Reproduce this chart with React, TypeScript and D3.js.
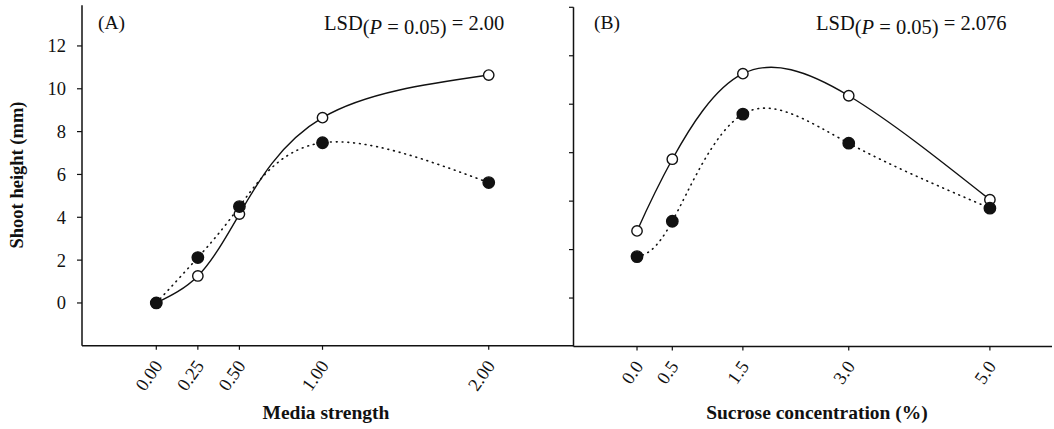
import React from "react";
import * as d3 from "d3";

// ---------- data ----------
const mediaStrength = [0, 0.25, 0.5, 1.0, 2.0];
const mediaTickLabels = ["0.00", "0.25", "0.50", "1.00", "2.00"];
const mediaOpen = [0, 1.26, 4.15, 8.65, 10.64];
const mediaFilled = [0, 2.12, 4.5, 7.48, 5.62];

const sucrose = [0, 0.5, 1.5, 3.0, 5.0];
const sucroseTickLabels = ["0.0", "0.5", "1.5", "3.0", "5.0"];
const sucroseOpen = [2.77, 5.73, 9.26, 8.35, 4.06];
const sucroseFilled = [1.71, 3.17, 7.59, 6.39, 3.71];

const yTicksA = [0, 2, 4, 6, 8, 10, 12];
const yTicksB = [0, 2, 4, 6, 8, 10, 12];

const FONT = "'Liberation Serif', 'Times New Roman', serif";

// ---------- scales ----------
const xA = d3.scaleLinear().domain([-0.447, 2.51]).range([82, 573.5]);
const yA = d3.scaleLinear().domain([-2, 14]).range([345.8, 3.1]);
const xB = d3.scaleLinear().domain([-0.9, 5.88]).range([573.5, 1052]);
const yB = d3.scaleLinear().domain([-2, 12]).range([346.5, 7.3]);

type Pt = [number, number];

function Series({
  xs, ys, x, y, dotted,
}: { xs: number[]; ys: number[]; x: d3.ScaleLinear<number, number>; y: d3.ScaleLinear<number, number>; dotted: boolean }) {
  const pts: Pt[] = xs.map((v, i) => [x(v), y(ys[i])]);
  const line = d3.line<Pt>().x((d) => d[0]).y((d) => d[1]).curve(d3.curveNatural);
  return (
    <path
      d={line(pts) || ""}
      fill="none"
      stroke="#111"
      strokeWidth={dotted ? 1.6 : 1.4}
      strokeDasharray={dotted ? "0.8 5" : undefined}
      strokeLinecap={dotted ? "round" : "butt"}
    />
  );
}

function Markers({
  xs, ys, x, y, filled,
}: { xs: number[]; ys: number[]; x: d3.ScaleLinear<number, number>; y: d3.ScaleLinear<number, number>; filled: boolean }) {
  return (
    <g>
      {xs.map((v, i) => (
        <circle
          key={i}
          cx={x(v)}
          cy={y(ys[i])}
          r={filled ? 5.7 : 5.2}
          fill={filled ? "#111" : "#fff"}
          stroke="#111"
          strokeWidth={1.4}
        />
      ))}
    </g>
  );
}

function XTicks({
  values, labels, x, y0,
}: { values: number[]; labels: string[]; x: d3.ScaleLinear<number, number>; y0: number }) {
  return (
    <g>
      {values.map((v, i) => (
        <g key={i}>
          <line x1={x(v)} x2={x(v)} y1={y0} y2={y0 + 4} stroke="#111" strokeWidth={1.2} />
          <text
            transform={`translate(${x(v) + 7},${y0 + 20}) rotate(-55)`}
            textAnchor="end"
            fontFamily={FONT}
            fontSize={18.5}
            fill="#111"
          >
            {labels[i]}
          </text>
        </g>
      ))}
    </g>
  );
}

function LSD({ x0, value }: { x0: number; value: string }) {
  return (
    <text x={x0} y={30} fontFamily={FONT} fontSize={20.5} fill="#111">
      LSD
      <tspan dy={4}>(</tspan>
      <tspan fontStyle="italic">P</tspan>
      <tspan> = 0.05)</tspan>
      <tspan dy={-4}> = {value}</tspan>
    </text>
  );
}

export default function App() {
  const bottomA = yA(-2);
  const bottomB = yB(-2);
  return (
    <svg
      width={1054}
      height={429}
      style={{ position: "absolute", left: 0, top: 0, background: "#fff" }}
    >
      <rect x={0} y={0} width={1054} height={429} fill="#fff" />

      {/* Panel A axes */}
      <line x1={xA.range()[0]} x2={xA.range()[0]} y1={yA(13.9)} y2={bottomA} stroke="#111" strokeWidth={1.5} />
      <line x1={xA.range()[0]} x2={xA.range()[1]} y1={bottomA} y2={bottomA} stroke="#111" strokeWidth={1.5} />
      {yTicksA.map((t) => (
        <g key={t}>
          <line x1={xA.range()[0] - 5} x2={xA.range()[0]} y1={yA(t)} y2={yA(t)} stroke="#111" strokeWidth={1.2} />
          <text
            x={66}
            y={yA(t)}
            dy="0.35em"
            textAnchor="end"
            fontFamily={FONT}
            fontSize={18.5}
            fill="#111"
          >
            {t}
          </text>
        </g>
      ))}
      <XTicks values={mediaStrength} labels={mediaTickLabels} x={xA} y0={bottomA} />

      {/* Panel B axes */}
      <line x1={xB.range()[0]} x2={xB.range()[0]} y1={yB(12)} y2={bottomB} stroke="#111" strokeWidth={1.5} />
      <line x1={xB.range()[0]} x2={xB.range()[1]} y1={bottomB} y2={bottomB} stroke="#111" strokeWidth={1.5} />
      {yTicksB.map((t) => (
        <line key={t} x1={xB.range()[0] - 4.5} x2={xB.range()[0]} y1={yB(t)} y2={yB(t)} stroke="#111" strokeWidth={1.2} />
      ))}
      <XTicks values={sucrose} labels={sucroseTickLabels} x={xB} y0={bottomB} />

      {/* Panel A data */}
      <Series xs={mediaStrength} ys={mediaOpen} x={xA} y={yA} dotted={false} />
      <Series xs={mediaStrength} ys={mediaFilled} x={xA} y={yA} dotted={true} />
      <Markers xs={mediaStrength} ys={mediaOpen} x={xA} y={yA} filled={false} />
      <Markers xs={mediaStrength} ys={mediaFilled} x={xA} y={yA} filled={true} />

      {/* Panel B data */}
      <Series xs={sucrose} ys={sucroseOpen} x={xB} y={yB} dotted={false} />
      <Series xs={sucrose} ys={sucroseFilled} x={xB} y={yB} dotted={true} />
      <Markers xs={sucrose} ys={sucroseOpen} x={xB} y={yB} filled={false} />
      <Markers xs={sucrose} ys={sucroseFilled} x={xB} y={yB} filled={true} />

      {/* Labels */}
      <text x={98} y={29} fontFamily={FONT} fontSize={19.5} fill="#111">(A)</text>
      <text x={594} y={29} fontFamily={FONT} fontSize={19.5} fill="#111">(B)</text>
      <LSD x0={324} value="2.00" />
      <LSD x0={816} value="2.076" />

      <text
        transform="translate(23,175) rotate(-90)"
        textAnchor="middle"
        fontFamily={FONT}
        fontWeight="bold"
        fontSize={18.5}
        fill="#111"
      >
        Shoot height (mm)
      </text>
      <text x={326} y={419} textAnchor="middle" fontFamily={FONT} fontWeight="bold" fontSize={19.5} fill="#111">
        Media strength
      </text>
      <text x={817} y={419} textAnchor="middle" fontFamily={FONT} fontWeight="bold" fontSize={19.5} fill="#111">
        Sucrose concentration (%)
      </text>
    </svg>
  );
}
